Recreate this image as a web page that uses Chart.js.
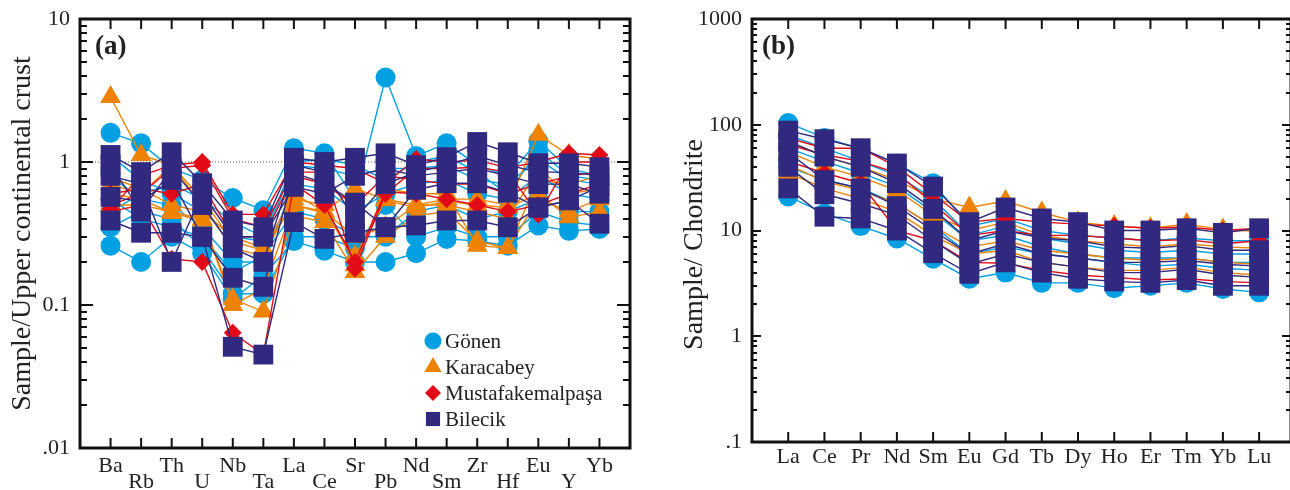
<!DOCTYPE html>
<html>
<head>
<meta charset="utf-8">
<script src="https://cdn.jsdelivr.net/npm/chart.js@4.4.1/dist/chart.umd.min.js"></script>
<style>
  html, body { margin: 0; padding: 0; background: #fff; overflow: hidden; }
  #wrapA { position: absolute; left: 0; top: 0; width: 645px; height: 490px; }
  #wrapB { position: absolute; left: 645px; top: 0; width: 646px; height: 490px; }
</style>
</head>
<body>
<div id="wrapA"><canvas id="chartA" width="645" height="490"></canvas></div>
<div id="wrapB"><canvas id="chartB" width="646" height="490"></canvas></div>
<script>
// categories
const traceElems = ['Ba', 'Rb', 'Th', 'U', 'Nb', 'Ta', 'La', 'Ce', 'Sr', 'Pb', 'Nd', 'Sm', 'Zr', 'Hf', 'Eu', 'Y', 'Yb'];
const reeElems = ['La', 'Ce', 'Pr', 'Nd', 'Sm', 'Eu', 'Gd', 'Tb', 'Dy', 'Ho', 'Er', 'Tm', 'Yb', 'Lu'];

// tick labels
const yTicksA = [0.01, 0.1, 1, 10];
const yLabelsA = ['.01', '0.1', '1', '10'];
const yTicksB = [0.1, 1, 10, 100, 1000];
const yLabelsB = ['.1', '1', '10', '100', '1000'];

// (a) sample / upper continental crust
const gonenTrace = [
  [1.6, 1.35, 0.9, 0.75, 0.56, 0.46, 1.25, 1.15, 0.55, 3.9, 1.1, 1.35, 0.95, 0.8, 1.4, 0.9, 0.8],
  [1.1, 0.75, 0.6, 0.45, 0.3, 0.28, 0.95, 0.9, 0.8, 0.9, 0.9, 0.95, 0.75, 0.7, 1.05, 0.75, 0.7],
  [0.8, 0.55, 0.5, 0.35, 0.2, 0.2, 0.7, 0.65, 0.45, 0.6, 0.7, 0.75, 0.6, 0.55, 0.8, 0.6, 0.55],
  [0.55, 0.4, 0.35, 0.3, 0.17, 0.22, 0.45, 0.4, 0.3, 0.3, 0.45, 0.5, 0.4, 0.45, 0.55, 0.45, 0.45],
  [0.26, 0.2, 0.3, 0.23, 0.11, 0.16, 0.28, 0.24, 0.2, 0.2, 0.23, 0.29, 0.28, 0.26, 0.36, 0.33, 0.34],
  [0.45, 0.6, 0.7, 0.55, 0.38, 0.3, 1.0, 1.05, 0.95, 0.75, 1.0, 1.1, 0.85, 0.6, 1.2, 0.8, 0.75],
  [0.35, 0.45, 0.4, 0.25, 0.12, 0.12, 0.3, 0.3, 0.25, 0.5, 0.3, 0.35, 0.3, 0.3, 0.45, 0.38, 0.36]
];
const karacabeyTrace = [
  [2.85, 1.12, 0.95, 0.55, 0.28, 0.24, 0.6, 0.45, 0.65, 0.55, 0.5, 0.55, 0.55, 0.5, 1.55, 1.12, 1.05],
  [0.78, 0.65, 0.5, 0.45, 0.3, 0.25, 0.5, 0.44, 0.22, 0.54, 0.48, 0.53, 0.5, 0.48, 0.6, 0.41, 0.45],
  [0.6, 0.55, 0.44, 0.39, 0.11, 0.09, 0.42, 0.38, 0.17, 0.3, 0.42, 0.45, 0.28, 0.25, 0.55, 0.45, 0.55],
  [0.7, 0.6, 0.95, 0.5, 0.25, 0.22, 0.55, 0.5, 0.19, 0.65, 0.6, 0.6, 0.26, 0.25, 0.75, 0.7, 0.8],
  [0.5, 0.5, 0.45, 0.4, 0.1, 0.13, 0.5, 0.45, 0.3, 0.35, 0.5, 0.5, 0.45, 0.4, 0.9, 0.6, 0.65]
];
const mustafaTrace = [
  [0.47, 0.8, 0.95, 1.0, 0.43, 0.43, 1.0, 0.95, 0.9, 0.71, 1.05, 1.0, 1.03, 0.91, 1.0, 1.15, 1.12],
  [0.5, 0.6, 0.9, 0.95, 0.4, 0.35, 0.85, 0.85, 0.18, 0.6, 0.9, 0.9, 0.92, 0.85, 0.43, 1.0, 1.0],
  [0.45, 0.5, 0.21, 0.2, 0.064, 0.045, 0.7, 0.5, 0.2, 0.62, 0.6, 0.55, 0.5, 0.45, 0.5, 0.6, 0.7],
  [0.6, 0.65, 0.6, 0.7, 0.3, 0.3, 0.8, 0.7, 0.5, 0.8, 0.75, 0.7, 0.7, 0.6, 0.7, 0.8, 0.85]
];
const bilecikTrace = [
  [1.12, 0.85, 1.17, 0.71, 0.39, 0.35, 1.07, 1.0, 1.07, 1.15, 0.95, 1.08, 1.38, 1.17, 0.98, 0.98, 0.92],
  [0.57, 0.53, 0.75, 0.3, 0.155, 0.134, 0.84, 0.71, 0.52, 0.35, 0.64, 0.71, 0.71, 0.61, 0.48, 0.54, 0.67],
  [0.39, 0.32, 0.32, 0.3, 0.051, 0.045, 0.38, 0.29, 0.32, 0.35, 0.36, 0.39, 0.39, 0.35, 0.48, 0.54, 0.37],
  [0.8, 0.7, 0.2, 0.6, 0.3, 0.3, 0.67, 0.6, 0.8, 0.9, 0.8, 0.85, 0.9, 0.8, 0.7, 0.7, 0.6],
  [0.95, 0.45, 0.9, 0.5, 0.25, 0.2, 0.95, 0.85, 0.4, 0.7, 0.85, 0.95, 1.1, 0.95, 0.85, 0.85, 0.8]
];

// (b) sample / chondrite
const gonenRee = [
  [104, 75, 59, 43, 28, 11, 13, 10, 9, 8.5, 8, 8.5, 8, 8],
  [21, 14.5, 11, 8.4, 5.4, 3.5, 4, 3.2, 3.2, 2.85, 3.0, 3.2, 2.8, 2.6],
  [60, 45, 35, 26, 15, 8, 9, 7, 6, 5.5, 5.5, 5.5, 5, 5],
  [40, 30, 25, 18, 11, 6, 7, 6, 5.5, 5, 4.6, 4.8, 4.4, 4.2],
  [80, 60, 45, 33, 20, 9, 11, 8.5, 7.5, 6.5, 6.2, 6.5, 6, 6]
];
const karacabeyRee = [
  [70, 50, 40, 30, 20, 16.5, 19, 14.8, 12, 11, 10.5, 11.5, 10.2, 9.8],
  [42, 29, 24, 18, 11, 7, 8, 6.5, 6, 5.5, 5.2, 5.5, 5, 4.8],
  [55, 40, 32, 24, 14, 10, 12, 9, 8, 7.5, 7, 7.5, 7, 6.8],
  [35, 25, 20, 15, 9, 6, 6.5, 5, 4.5, 4.2, 4.2, 4.5, 4, 3.8]
];
const mustafaRee = [
  [75, 60, 60, 40, 22, 12, 13, 12, 11.5, 11, 10.5, 10.8, 10, 10.5],
  [65, 52, 45, 35, 18, 9, 10, 9, 9, 8.5, 8, 8.2, 7.5, 8],
  [45, 35, 28, 10, 8, 5, 4.9, 4.2, 3.8, 3.6, 3.4, 3.5, 3.3, 3.2]
];
const bilecikRee = [
  [88, 73, 60, 43, 26, 12, 16.5, 13, 12, 10, 10, 10.5, 9.5, 10.5],
  [25, 13.5, 13, 10, 6.1, 3.9, 5, 4.0, 3.5, 3.3, 3.2, 3.4, 3.0, 3.0],
  [55, 30, 25, 17, 10, 6, 7.5, 6, 5.5, 5, 5, 5.2, 4.8, 4.6],
  [40, 22, 18, 14, 8, 4.8, 6, 5, 4.5, 4, 4, 4.3, 3.8, 3.6],
  [70, 50, 40, 28, 16, 8, 10, 8.5, 8, 7, 6.8, 7.2, 6.5, 6.5]
];

const serif = "'Liberation Serif', 'Times New Roman', serif";
const groups = [
  { name: 'Gönen', color: '#00a0e2', shape: 'circle', radius: 10, order: 4, legR: 8.5 },
  { name: 'Karacabey', color: '#ef8200', shape: 'triangle', radius: 12, order: 3, legR: 10 },
  { name: 'Mustafakemalpaşa', color: '#e30a17', shape: 'rectRot', radius: 9, order: 2, legR: 8 },
  { name: 'Bilecik', color: '#30297f', shape: 'rect', radius: 14, order: 1, legR: 10 }
];

function makeSets(rowsByGroup) {
  const sets = [];
  groups.forEach((g, gi) => {
    rowsByGroup[gi].forEach(row => {
      sets.push({
        label: g.name,
        data: row.map((v, i) => ({ x: i, y: v })),
        borderColor: g.color,
        backgroundColor: g.color,
        pointBackgroundColor: g.color,
        pointBorderColor: g.color,
        pointBorderWidth: 0,
        borderWidth: 1.4,
        pointStyle: g.shape,
        pointRadius: g.radius,
        order: g.order
      });
    });
  });
  return sets;
}

function line(ctx, x1, y1, x2, y2) {
  ctx.beginPath(); ctx.moveTo(x1, y1); ctx.lineTo(x2, y2); ctx.stroke();
}

// frame with inward ticks, panel letter, optional legend and reference line
function framePlugin(o) {
  return {
    id: 'frame' + o.letter,
    beforeDatasetsDraw(chart) {
      if (!o.refLine) return;
      const { ctx, chartArea: ca, scales: { y } } = chart;
      const py = y.getPixelForValue(o.refLine);
      ctx.save();
      ctx.strokeStyle = '#555';
      ctx.lineWidth = 1;
      ctx.setLineDash([1, 2]);
      line(ctx, ca.left, py, ca.right, py);
      ctx.restore();
    },
    afterDraw(chart) {
      const { ctx, chartArea: ca, scales: { x, y } } = chart;
      ctx.save();
      ctx.strokeStyle = '#111';
      ctx.lineWidth = 3;
      ctx.strokeRect(ca.left, ca.top, ca.right - ca.left, ca.bottom - ca.top);
      ctx.lineWidth = 2;
      for (let i = 0; i < o.n; i++) {
        const px = x.getPixelForValue(i);
        line(ctx, px, ca.top, px, ca.top + o.catTick);
        line(ctx, px, ca.bottom, px, ca.bottom - o.catTick);
      }
      for (let e = o.minExp; e <= o.maxExp; e++) {
        for (let m = 1; m <= 9; m++) {
          const v = m * Math.pow(10, e);
          if (v > y.max * 1.0001) break;
          const py = Math.round(y.getPixelForValue(v));
          const len = m === 1 ? o.major : o.minor;
          line(ctx, ca.left, py, ca.left + len, py);
          line(ctx, ca.right, py, ca.right - len, py);
        }
      }
      ctx.fillStyle = '#222';
      ctx.font = 'bold 27px ' + serif;
      ctx.textBaseline = 'middle';
      ctx.textAlign = 'left';
      ctx.fillText('(' + o.letter + ')', ca.left + o.letterDx, 47);
      if (o.legend) {
        ctx.font = '21px ' + serif;
        groups.forEach((g, i) => {
          const ly = o.legend.y + i * o.legend.dy;
          ctx.fillStyle = g.color;
          ctx.strokeStyle = g.color;
          Chart.helpers.drawPoint(ctx, { pointStyle: g.shape, radius: g.legR, rotation: 0, borderWidth: 0 }, o.legend.x, ly);
          ctx.fillStyle = '#222';
          ctx.fillText(g.name, o.legend.x + 12, ly + 1);
        });
      }
      ctx.restore();
    }
  };
}

function makeChart(id, cfg) {
  return new Chart(document.getElementById(id), {
    type: 'line',
    data: { datasets: makeSets(cfg.rows) },
    options: {
      responsive: false,
      animation: false,
      devicePixelRatio: 1,
      layout: { autoPadding: false, padding: cfg.padding },
      plugins: { legend: { display: false }, tooltip: { enabled: false } },
      scales: {
        x: {
          type: 'linear', min: -1, max: cfg.xMax,
          afterBuildTicks: s => { s.ticks = cfg.elems.map((e, i) => ({ value: i })); },
          afterFit: s => { s.height = cfg.xHeight; s.paddingLeft = 0; s.paddingRight = 0; },
          grid: { display: false, drawTicks: false },
          border: { display: false },
          ticks: {
            autoSkip: false, maxRotation: 0, padding: cfg.xPad, color: '#222',
            font: { family: serif, size: 22, lineHeight: cfg.xLine },
            callback: (v, i) => cfg.stagger && i % 2 ? ['', cfg.elems[i]] : cfg.elems[i]
          }
        },
        y: {
          type: 'logarithmic', min: cfg.yTicks[0], max: cfg.yTicks[cfg.yTicks.length - 1],
          afterBuildTicks: s => { s.ticks = cfg.yTicks.map(v => ({ value: v, major: true })); },
          afterFit: s => { s.width = cfg.yWidth; s.paddingTop = 0; s.paddingBottom = 0; },
          grid: { display: false, drawTicks: false },
          border: { display: false },
          ticks: {
            padding: 10, color: '#222',
            font: { family: serif, size: 22 },
            callback: (v, i) => cfg.yLabels[i]
          },
          title: {
            display: true, text: cfg.title, color: '#222',
            font: { family: serif, size: 28 },
            padding: { top: cfg.titlePad, bottom: 0 }
          }
        }
      }
    },
    plugins: [framePlugin(cfg.frame)]
  });
}

makeChart('chartA', {
  rows: [gonenTrace, karacabeyTrace, mustafaTrace, bilecikTrace],
  elems: traceElems, stagger: true,
  xMax: 17, xHeight: 42, xPad: 10, xLine: 0.73,
  yTicks: yTicksA, yLabels: yLabelsA, yWidth: 80,
  title: 'Sample/Upper continental crust', titlePad: 6,
  padding: { left: 0, right: 15, top: 19, bottom: 0 },
  frame: { letter: 'a', n: traceElems.length, catTick: 10, major: 13, minor: 7, minExp: -2, maxExp: 1,
           letterDx: 15, refLine: 1, legend: { x: 433, y: 341, dy: 26 } }
});

makeChart('chartB', {
  rows: [gonenRee, karacabeyRee, mustafaRee, bilecikRee],
  elems: reeElems, stagger: false,
  xMax: 13.88, xHeight: 48, xPad: 4, xLine: 1,
  yTicks: yTicksB, yLabels: yLabelsB, yWidth: 107,
  title: 'Sample/ Chondrite\u00a0\u00a0\u00a0\u00a0', titlePad: 33,
  padding: { left: 0, right: 0, top: 19, bottom: 0 },
  frame: { letter: 'b', n: reeElems.length, catTick: 10, major: 9, minor: 5, minExp: -1, maxExp: 3,
           letterDx: 10, refLine: null, legend: null }
});
</script>
</body>
</html>
